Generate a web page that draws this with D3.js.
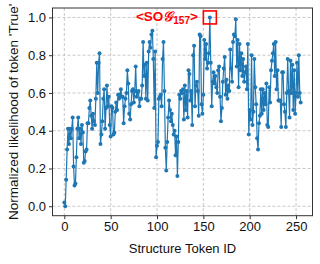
<!DOCTYPE html>
<html>
<head>
<meta charset="utf-8">
<script src="https://cdn.jsdelivr.net/npm/d3@7"></script>
<style>
  body { margin: 0; background: #fff; }
  text { font-family: "Liberation Sans", Arial, sans-serif; }
</style>
</head>
<body>
<div class="canvas"></div>
<script>
// normalized likelihood per structure token (ids 0..255)
const likelihood = [
  0.02, 0.00, 0.14, 0.30, 0.41, 0.33, 0.41, 0.36, 0.41, 0.47,
  0.21, 0.11, 0.12, 0.26, 0.41, 0.47, 0.36, 0.41, 0.33, 0.43,
  0.39, 0.23, 0.24, 0.29, 0.30, 0.44, 0.44, 0.52, 0.56, 0.48,
  0.41, 0.49, 0.45, 0.43, 0.57, 0.76, 0.60, 0.76, 0.81, 0.33,
  0.38, 0.45, 0.57, 0.62, 0.41, 0.52, 0.64, 0.53, 0.58, 0.43,
  0.37, 0.53, 0.52, 0.38, 0.39, 0.50, 0.55, 0.51, 0.59, 0.57,
  0.59, 0.62, 0.58, 0.58, 0.44, 0.53, 0.57, 0.60, 0.72, 0.65,
  0.49, 0.46, 0.54, 0.61, 0.62, 0.55, 0.61, 0.74, 0.58, 0.60,
  0.61, 0.53, 0.57, 0.57, 0.64, 0.87, 0.69, 0.75, 0.57, 0.76,
  0.56, 0.82, 0.87, 0.84, 0.91, 0.93, 0.78, 0.52, 0.82, 0.26,
  0.32, 0.34, 0.57, 0.58, 0.59, 0.53, 0.78, 0.87, 0.61, 0.31,
  0.19, 0.34, 0.47, 0.56, 0.51, 0.45, 0.49, 0.43, 0.38, 0.40,
  0.27, 0.37, 0.16, 0.34, 0.59, 0.57, 0.61, 0.60, 0.62, 0.46,
  0.64, 0.51, 0.61, 0.47, 0.72, 0.70, 0.56, 0.61, 0.43, 0.80,
  0.85, 0.53, 0.64, 0.66, 0.61, 0.48, 0.91, 0.90, 0.54, 0.49,
  0.59, 0.88, 0.78, 0.86, 0.73, 0.76, 0.81, 1.00, 0.76, 0.53,
  0.66, 0.71, 0.65, 0.69, 0.63, 0.60, 0.72, 0.74, 0.58, 0.45,
  0.52, 0.66, 0.73, 0.79, 0.59, 0.67, 0.57, 0.64, 0.61, 0.83,
  0.73, 0.66, 0.87, 0.91, 0.90, 0.99, 0.74, 0.88, 0.63, 0.86,
  0.72, 0.81, 0.69, 0.78, 0.66, 0.71, 0.74, 0.62, 0.86, 0.38,
  0.51, 0.46, 0.80, 0.43, 0.50, 0.78, 0.63, 0.54, 0.36, 0.30,
  0.44, 0.48, 0.62, 0.49, 0.62, 0.51, 0.60, 0.54, 0.65, 0.43,
  0.42, 0.63, 0.55, 0.72, 0.77, 0.81, 0.86, 0.69, 0.87, 0.62,
  0.72, 0.56, 0.56, 0.56, 0.42, 0.71, 0.71, 0.54, 0.50, 0.42,
  0.60, 0.78, 0.61, 0.47, 0.77, 0.60, 0.75, 0.51, 0.72, 0.49,
  0.60, 0.76, 0.58, 0.80, 0.60, 0.55
]
const tokenIds = likelihood.map((d, i) => i)
const xTicks = [0, 50, 100, 150, 200, 250]
const yTicks = [0, 0.2, 0.4, 0.6, 0.8, 1.0]
const highlightId = 157

const width = 320
const height = 264
const margin = { top: 8, right: 7.5, bottom: 48.3, left: 52.5 }
const graphWidth = width - margin.left - margin.right
const graphHeight = height - margin.top - margin.bottom

const svg = d3.select('.canvas').append('svg')
  .attr('width', width)
  .attr('height', height)

const graph = svg.append('g')
  .attr('transform', `translate(${margin.left}, ${margin.top})`)

const x = d3.scaleLinear()
  .domain([-12.75, 267.75])
  .range([0, graphWidth])

const y = d3.scaleLinear()
  .domain([-0.05, 1.05])
  .range([graphHeight, 0])

// dashed grid
graph.append('g').selectAll('line')
  .data(xTicks)
  .enter().append('line')
  .attr('x1', d => x(d)).attr('x2', d => x(d))
  .attr('y1', 0).attr('y2', graphHeight)
  .attr('stroke', '#c8c8c8')
  .attr('stroke-dasharray', '3,2')

graph.append('g').selectAll('line')
  .data(yTicks)
  .enter().append('line')
  .attr('x1', 0).attr('x2', graphWidth)
  .attr('y1', d => y(d)).attr('y2', d => y(d))
  .attr('stroke', '#c8c8c8')
  .attr('stroke-dasharray', '3,2')

// axes
const xAxisGroup = graph.append('g')
  .attr('transform', `translate(0,${graphHeight})`)
  .call(d3.axisBottom(x).tickValues(xTicks).tickSize(3.5).tickPadding(3))
const yAxisGroup = graph.append('g')
  .call(d3.axisLeft(y).tickValues(yTicks).tickFormat(d3.format('.1f')).tickSize(3.5).tickPadding(3))

;[xAxisGroup, yAxisGroup].forEach(g => {
  g.select('.domain').remove()
  g.selectAll('line').attr('stroke', '#333')
  g.selectAll('text')
    .attr('font-family', '"Liberation Sans", Arial, sans-serif')
    .attr('font-size', 13)
    .attr('fill', '#111')
})

// the line with markers
const line = d3.line()
  .x((d, i) => x(tokenIds[i]))
  .y(d => y(d))

graph.append('path')
  .datum(likelihood)
  .attr('d', line)
  .attr('fill', 'none')
  .attr('stroke', '#1f77b4')
  .attr('stroke-width', 1.2)

graph.append('g').selectAll('circle')
  .data(likelihood)
  .enter().append('circle')
  .attr('cx', (d, i) => x(tokenIds[i]))
  .attr('cy', d => y(d))
  .attr('r', 2)
  .attr('fill', '#1f77b4')

// frame
graph.append('rect')
  .attr('width', graphWidth)
  .attr('height', graphHeight)
  .attr('fill', 'none')
  .attr('stroke', '#333')
  .attr('stroke-width', 1)

// highlighted token
const hx = x(highlightId)
const hy = y(likelihood[highlightId])
graph.append('rect')
  .attr('x', hx - 6.5)
  .attr('y', hy - 6.5)
  .attr('width', 13)
  .attr('height', 13)
  .attr('fill', 'none')
  .attr('stroke', 'red')
  .attr('stroke-width', 1.6)

const note = graph.append('text')
  .attr('x', hx - 12)
  .attr('y', hy + 3.5)
  .attr('text-anchor', 'end')
  .attr('fill', 'red')
  .attr('font-weight', 'bold')
  .attr('font-size', 13.5)
note.append('tspan').text('<SO')
note.append('tspan').attr('font-family', '"DejaVu Serif", serif').attr('font-style', 'italic').text('\u{1D4A2}')
note.append('tspan').attr('font-size', 10).attr('dy', 3).text(highlightId)
note.append('tspan').attr('dy', -3).text('>')

// axis labels
svg.append('text')
  .attr('x', margin.left + graphWidth / 2)
  .attr('y', 253)
  .attr('text-anchor', 'middle')
  .attr('font-size', 13)
  .attr('fill', '#111')
  .text('Structure Token ID')

svg.append('text')
  .attr('transform', `translate(17.5, ${margin.top + graphHeight / 2}) rotate(-90)`)
  .attr('text-anchor', 'middle')
  .attr('font-size', 13.5)
  .attr('fill', '#111')
  .text("Normalized likelihood of token 'True'")
</script>
</body>
</html>
